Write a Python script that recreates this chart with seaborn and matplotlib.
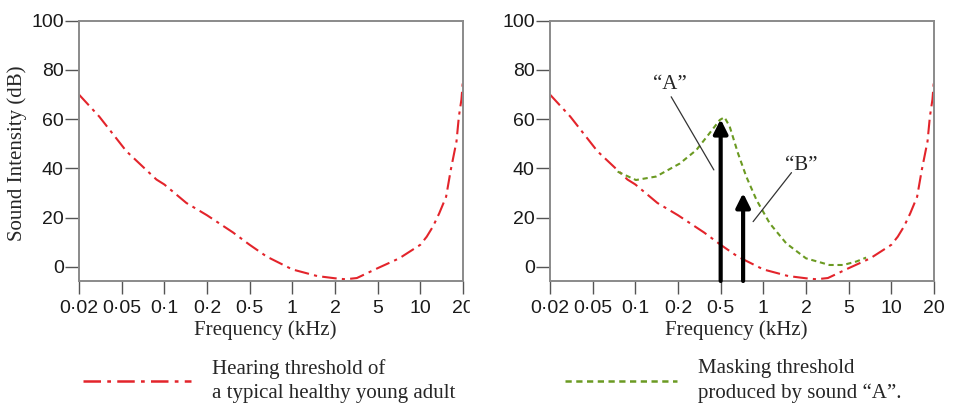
import numpy as np
import pandas as pd
import matplotlib.pyplot as plt
import seaborn as sns
from matplotlib.lines import Line2D
from matplotlib.patches import Rectangle

# Ejes: frecuencia (kHz) con marcas equiespaciadas, intensidad (dB)
freq_ticks = [0.02, 0.05, 0.1, 0.2, 0.5, 1, 2, 5, 10, 20]
freq_labels = ['0·02', '0·05', '0·1', '0·2', '0·5', '1', '2', '5', '10', '20']
db_ticks = [0, 20, 40, 60, 80, 100]

# Umbral de audición (adulto joven sano)
hear_freq = [0.02, 0.031, 0.054, 0.088, 0.1, 0.143, 0.2, 0.35, 0.5, 0.66, 1, 1.5,
             2, 2.5, 3.2, 5, 7.1, 10, 11.1, 12.3, 13.6, 15.2, 16.4, 18, 18.7, 19.5, 20]
hear_db = [70, 61, 47, 35.5, 33.5, 26, 21, 14, 9, 4.2, -1, -3.7,
           -4.6, -5, -4.5, -0.5, 3.5, 9, 12.3, 16.5, 21.8, 28.5, 39.4, 51, 61, 68, 76]

# Umbral de enmascaramiento producido por el sonido "A"
mask_freq = [0.075, 0.101, 0.14, 0.208, 0.297, 0.394, 0.491, 0.532, 0.579, 0.664,
             0.758, 0.895, 1.11, 1.45, 2.0, 3.31, 4.44, 5.66, 6.64]
mask_db = [38.7, 35.3, 36.7, 42, 47.5, 54.3, 59.7, 60.8, 57, 46,
           36.7, 27.2, 17.7, 9.6, 3.5, 0.8, 0.8, 2.2, 3.8]

# Sonidos "A" y "B"
tone_freq = [0.5, 0.72]
tone_db = [60, 30]
tone_names = ['“A”', '“B”']
tone_label_freq = [0.174, 1.85]
tone_label_db = [74, 41]
leader_freq = [[0.179, 0.432], [1.58, 0.847]]
leader_db = [[69.1, 39.4], [38.3, 18.4]]

hear_df = pd.DataFrame({'freq': hear_freq, 'db': hear_db})
mask_df = pd.DataFrame({'freq': mask_freq, 'db': mask_db})

RED = '#e3242b'
GREEN = '#6b9a22'
GRAY = '#8a8a8a'
YMIN = -5.7

sns.set_style('white')
plt.rcParams['font.family'] = ['Liberation Sans', 'DejaVu Sans']
SERIF = ['Liberation Serif', 'DejaVu Serif']

# escala: log por tramos para que las marcas queden equiespaciadas
pos = np.arange(len(freq_ticks), dtype=float)
logt = np.log10(freq_ticks)


def fwd(x):
    lx = np.log10(np.clip(np.asarray(x, float), 1e-6, None))
    out = np.interp(lx, logt, pos)
    out = np.where(lx < logt[0], (lx - logt[0]) / (logt[1] - logt[0]), out)
    out = np.where(lx > logt[-1], pos[-1] + (lx - logt[-1]) / (logt[-1] - logt[-2]), out)
    return out


def inv(p):
    p = np.asarray(p, float)
    lx = np.interp(p, pos, logt)
    lx = np.where(p < 0, logt[0] + p * (logt[1] - logt[0]), lx)
    lx = np.where(p > pos[-1], logt[-1] + (p - pos[-1]) * (logt[-1] - logt[-2]), lx)
    return 10 ** lx


fig = plt.figure(figsize=(9.56, 4.07), dpi=100)
ax1 = fig.add_axes([0.0826, 0.3096, 0.4017, 0.6396])
ax2 = fig.add_axes([0.5753, 0.3096, 0.4017, 0.6396])

for ax in (ax1, ax2):
    ax.set_xscale('function', functions=(fwd, inv))
    sns.lineplot(data=hear_df, x='freq', y='db', ax=ax, color=RED, lw=1.5,
                 sort=False, dashes=False)
    ax.lines[-1].set_dashes((7, 2.5, 1.5, 2.5))

# umbral de enmascaramiento
sns.lineplot(data=mask_df, x='freq', y='db', ax=ax2, color=GREEN, lw=1.5, sort=False)
ax2.lines[-1].set_dashes((2.5, 1.8))

for ax in (ax1, ax2):
    ax.set_xlim(0.02, 20)
    ax.set_ylim(YMIN, 100)
    ax.set_xticks(freq_ticks)
    ax.set_xticklabels(freq_labels)
    ax.xaxis.set_minor_locator(plt.NullLocator())
    ax.set_yticks(db_ticks)
    ax.tick_params(axis='y', length=10, width=1, color='#555555', pad=1, labelsize=14,
                   left=True, labelcolor='#1a1a1a')
    ax.tick_params(axis='x', length=9, width=1, color='#555555', pad=5, labelsize=14,
                   bottom=True, labelcolor='#1a1a1a')
    for s in ax.spines.values():
        s.set_color(GRAY)
        s.set_linewidth(1.4)
    ax.set_xlabel('Frequency (kHz)', family=SERIF, fontsize=15)
    ax.xaxis.set_label_coords(0.485, -0.15)
    ax.set_ylabel('')

ax1.set_ylabel('Sound Intensity (dB)', family=SERIF, fontsize=15)
ax1.yaxis.set_label_coords(-0.135, 0.49)

# flechas de los sonidos y sus etiquetas
for f, d, name, lf, ld, xf, yd in zip(tone_freq, tone_db, tone_names, tone_label_freq,
                                      tone_label_db, leader_freq, leader_db):
    ax2.annotate('', xy=(f, d), xytext=(f, YMIN),
                 arrowprops=dict(arrowstyle='-|>', lw=3, color='black',
                                 mutation_scale=21, shrinkA=0, shrinkB=0))
    ax2.text(lf, ld, name, family=SERIF, fontsize=15, ha='center', va='center')
    ax2.plot(xf, yd, color='#333333', lw=0.9)

# leyendas debajo de cada panel
h1 = Line2D([], [], color=RED, lw=1.8, dashes=(7, 2.5, 1.5, 2.5))
leg1 = ax1.legend([h1], ['Hearing threshold of\na typical healthy young adult'],
                  loc='upper left', bbox_to_anchor=(0.01, -0.3), frameon=False,
                  handlelength=5.2, handletextpad=1.0, borderpad=0, borderaxespad=0,
                  prop={'family': SERIF, 'size': 15})
h2 = Line2D([], [], color=GREEN, lw=1.8, dashes=(2.5, 1.8))
leg2 = ax2.legend([h2], ['Masking threshold\nproduced by sound “A”.'],
                  loc='upper left', bbox_to_anchor=(0.039, -0.3), frameon=False,
                  handlelength=5.4, handletextpad=1.0, borderpad=0, borderaxespad=0,
                  prop={'family': SERIF, 'size': 15})
for leg in (leg1, leg2):
    for t in leg.get_texts():
        t.set_linespacing(1.35)

# recorte del panel izquierdo, como en la figura original
fig.add_artist(Rectangle((470 / 956, 0), 8 / 956, 122 / 407, transform=fig.transFigure,
                         color='white', zorder=10))

fig.savefig('out.png', dpi=100)
